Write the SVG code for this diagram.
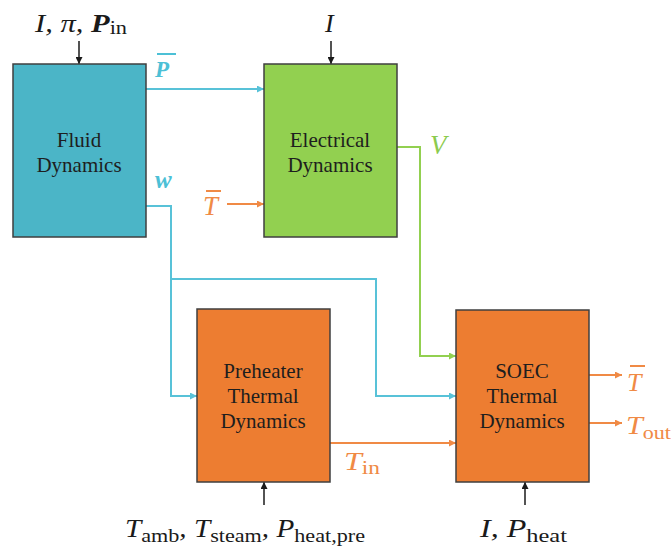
<svg xmlns="http://www.w3.org/2000/svg" width="671" height="552" viewBox="0 0 671 552">
<defs>
<style>
.box{stroke:#3f3f3f;stroke-width:1.5}
text{font-family:"Liberation Serif","Times New Roman",serif}
.bt{font-size:21px;fill:#1e1e1e;text-anchor:middle}
.m{font-style:italic}
.sub{font-style:normal}
.c{fill:none;stroke-width:2}
.cy{stroke:#58C2D8}
.gr{stroke:#92D050}
.or{stroke:#F08A45}
.bk{stroke:#1a1a1a;stroke-width:1.5;fill:none}
</style>
<marker id="aC" viewBox="0 0 8 8" refX="8" refY="4" markerWidth="7" markerHeight="7" markerUnits="userSpaceOnUse" orient="auto"><path d="M0,0 L8,4 L0,8 z" fill="#58C2D8"/></marker>
<marker id="aG" viewBox="0 0 8 8" refX="8" refY="4" markerWidth="7" markerHeight="7" markerUnits="userSpaceOnUse" orient="auto"><path d="M0,0 L8,4 L0,8 z" fill="#92D050"/></marker>
<marker id="aO" viewBox="0 0 8 8" refX="8" refY="4" markerWidth="7" markerHeight="7" markerUnits="userSpaceOnUse" orient="auto"><path d="M0,0 L8,4 L0,8 z" fill="#F08A45"/></marker>
<marker id="aK" viewBox="0 0 8 8" refX="8" refY="4" markerWidth="7" markerHeight="7" markerUnits="userSpaceOnUse" orient="auto"><path d="M0,0 L8,4 L0,8 z" fill="#1a1a1a"/></marker>
</defs>
<rect width="671" height="552" fill="#ffffff"/>

<g id="connectors">
<path class="c cy" d="M146,89 H264" marker-end="url(#aC)"/>
<path class="c cy" d="M146,206 H171 V396 H197" marker-end="url(#aC)"/>
<path class="c cy" d="M171,279 H376 V396 H456" marker-end="url(#aC)"/>
<path class="c gr" d="M397,147 H420 V356 H456" marker-end="url(#aG)"/>
<path class="c or" d="M227,204 H264" marker-end="url(#aO)"/>
<path class="c or" d="M330,443 H456" marker-end="url(#aO)"/>
<path class="c or" d="M589,375 H622" marker-end="url(#aO)"/>
<path class="c or" d="M589,423 H622" marker-end="url(#aO)"/>
<path class="bk" d="M79,41 V64" marker-end="url(#aK)"/>
<path class="bk" d="M331,41 V64" marker-end="url(#aK)"/>
<path class="bk" d="M264,505 V482" marker-end="url(#aK)"/>
<path class="bk" d="M525,505 V482" marker-end="url(#aK)"/>
</g>

<g id="fluid">
<rect class="box" x="13" y="64" width="133" height="173" fill="#4BB5C7"/>
<text class="bt" x="79" y="147">Fluid</text>
<text class="bt" x="79" y="172">Dynamics</text>
</g>

<g id="electrical">
<rect class="box" x="264" y="64" width="133" height="173" fill="#92D050"/>
<text class="bt" x="330" y="147">Electrical</text>
<text class="bt" x="330" y="172">Dynamics</text>
</g>

<g id="preheater">
<rect class="box" x="197" y="309" width="133" height="173" fill="#ED7D31"/>
<text class="bt" x="263" y="378">Preheater</text>
<text class="bt" x="263" y="403">Thermal</text>
<text class="bt" x="263" y="428">Dynamics</text>
</g>

<g id="soec">
<rect class="box" x="456" y="310" width="133" height="172" fill="#ED7D31"/>
<text class="bt" x="522" y="378">SOEC</text>
<text class="bt" x="522" y="403">Thermal</text>
<text class="bt" x="522" y="428">Dynamics</text>
</g>

<g id="labels">
<text class="m" x="35" y="32" font-size="26" fill="#1a1a1a" textLength="92" lengthAdjust="spacingAndGlyphs">I, π, <tspan font-weight="bold">P</tspan><tspan class="sub" font-size="19" dy="2">in</tspan></text>
<text class="m" x="325" y="32" font-size="26" fill="#1a1a1a">I</text>

<text class="m" x="155" y="77" font-size="23" font-weight="bold" fill="#4CC0D6">P</text>
<line x1="157" y1="54" x2="176" y2="54" stroke="#4CC0D6" stroke-width="2"/>
<text class="m" x="155" y="188" font-size="25" font-weight="bold" fill="#4CC0D6">w</text>

<text class="m" x="203" y="215" font-size="27" fill="#F08A45">T</text>
<line x1="206" y1="191" x2="221" y2="191" stroke="#F08A45" stroke-width="2"/>

<text class="m" x="430" y="154" font-size="27" fill="#8CCB4E">V</text>

<text class="m" x="344" y="470" font-size="26" fill="#F08A45" textLength="36" lengthAdjust="spacingAndGlyphs">T<tspan class="sub" font-size="19" dy="4">in</tspan></text>

<text class="m" x="627" y="391" font-size="26" fill="#F08A45">T</text>
<line x1="630" y1="366" x2="645" y2="366" stroke="#F08A45" stroke-width="2"/>
<text class="m" x="626" y="434" font-size="26" fill="#F08A45" textLength="45" lengthAdjust="spacingAndGlyphs">T<tspan class="sub" font-size="19" dy="5">out</tspan></text>

<text class="m" x="125" y="537" font-size="25" fill="#1a1a1a" textLength="240" lengthAdjust="spacingAndGlyphs">T<tspan class="sub" font-size="19" dy="5">amb</tspan><tspan dy="-5">, T</tspan><tspan class="sub" font-size="19" dy="5">steam</tspan><tspan dy="-5">, P</tspan><tspan class="sub" font-size="19" dy="5">heat,pre</tspan></text>
<text class="m" x="480" y="537" font-size="25" fill="#1a1a1a" textLength="87" lengthAdjust="spacingAndGlyphs">I, P<tspan class="sub" font-size="19" dy="5">heat</tspan></text>
</g>
</svg>
